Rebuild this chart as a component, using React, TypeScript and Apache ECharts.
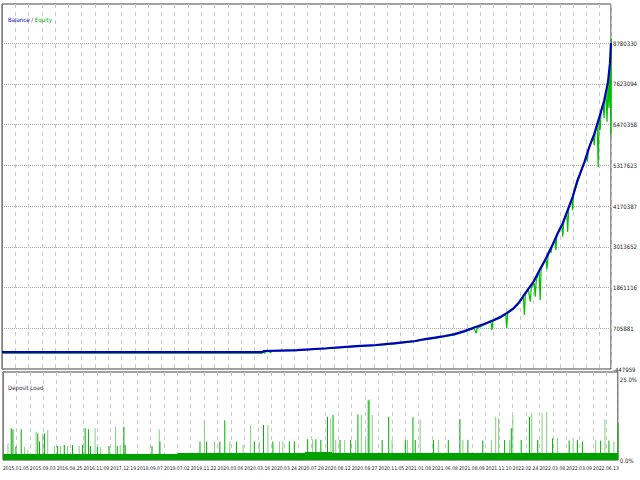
import React, { useEffect, useRef } from "react";
import * as echarts from "echarts";

// ---- tick labels ----
const dateLabels = [
  "2015.01.05", "2015.09.03", "2016.04.25", "2016.11.09", "2017.12.19", "2018.09.07",
  "2019.07.02", "2019.11.22", "2020.03.06", "2020.03.16", "2020.03.24", "2020.07.28",
  "2020.08.12", "2020.08.27", "2020.11.05", "2021.01.08", "2021.06.08", "2021.08.09",
  "2021.11.10", "2022.02.24", "2022.03.08", "2022.03.09", "2022.06.13",
];
const yLabels = [
  "-447959", "705881", "1861116", "3013652", "4170387", "5317623", "6470358", "7623094", "8780330",
];
const loadLabels = ["0.0%", "25.0%"];

// ---- series (x = trade position along the report) ----
const balance: number[][] = [
  [0, 30000], [265, 30000], [266, 62000], [300, 88000], [330, 140000], [360, 200000],
  [380, 232000], [400, 285000], [420, 345000], [430, 400000], [440, 440000], [450, 486000],
  [460, 540000], [470, 625000], [480, 725000], [490, 825000], [500, 940000], [507, 1030000],
  [513, 1135000], [520, 1270000], [525, 1420000], [530, 1620000], [535, 1820000], [540, 2010000],
  [547, 2380000], [553, 2690000], [560, 3090000], [565, 3400000], [570, 3680000], [575, 4050000],
  [580, 4420000], [585, 4900000], [587, 5040000], [592, 5410000], [597, 5840000], [602, 6200000],
  [607, 6660000], [612, 7140000], [616, 7680000], [618, 8210000], [619, 8780330],
];

const equity: number[][] = [
  [0, 0], [264, 0], [266, 40000], [267, -10000], [268, 45000], [272, 50000], [273, 5000],
  [274, 55000], [300, 75000], [330, 125000], [360, 185000], [380, 215000], [400, 265000],
  [420, 330000], [430, 380000], [440, 420000], [450, 470000], [460, 520000], [470, 600000],
  [480, 700000], [482, 560000], [483, 710000], [490, 800000], [497, 890000], [498, 656000],
  [499, 910000], [507, 1000000], [512, 1100000], [513, 713000], [514, 1120000], [520, 1250000],
  [525, 1400000], [528, 1500000], [530, 1600000], [531, 1080000], [532, 1660000], [535, 1800000],
  [537, 1460000], [538, 1860000], [541, 1980000], [542, 1600000], [543, 2040000], [546, 2330000],
  [547, 1500000], [548, 2400000], [553, 2650000], [554, 2380000], [555, 2720000], [557, 2950000],
  [558, 2840000], [559, 2990000], [562, 3220000], [563, 2920000], [564, 3320000], [569, 3640000],
  [570, 3300000], [571, 3700000], [574, 3980000], [575, 3440000], [576, 4090000], [579, 4360000],
  [580, 4050000], [581, 4480000], [587, 5000000], [592, 5380000], [594, 5560000], [595, 5420000],
  [596, 5750000], [601, 6150000], [602, 5890000], [603, 6280000], [605, 6500000], [606, 5270000],
  [607, 6620000], [608, 6320000], [609, 6850000], [611, 7050000], [612, 6660000], [613, 7250000],
  [614, 7380000], [615, 6550000], [616, 7640000], [617, 6940000], [618, 8150000], [619, 6170000],
  [619.4, 8900000],
];

const loadBase: number[][] = [
  [0, 1.7], [175, 1.7], [176, 2.0], [303, 2.0], [304, 2.3], [330, 2.3], [331, 2.0], [619, 2.2],
];

const loadDark: number[][] = [
  [8.3, 9.8], [10, 9.5], [13, 4.1], [18.3, 9.5], [35, 8.2], [36.7, 5.7], [41.7, 8.2], [55, 4.3],
  [61.7, 4.6], [70, 4.6], [80, 4.6], [82.7, 9.8], [86, 9.5], [88, 4.3], [95, 4.1], [106.7, 4.3],
  [115, 4.3], [121.7, 10.3], [123, 4.6], [150, 4.3], [158, 5.7], [198.3, 5.7], [205, 5.7],
  [218.3, 5.7], [223.3, 12.3], [235, 5.7], [253, 5.7], [262.3, 10.8], [271.7, 5.7], [288.3, 5.7],
  [293.3, 5.7], [306.7, 6.4], [315, 6.4], [320, 6.2], [326.7, 13.4], [332.3, 13.9], [339.3, 6.2],
  [350, 6.2], [357.3, 14.1], [367.7, 18.5], [381.7, 6.2], [388.3, 13.4], [405, 6.2], [412.7, 13.2],
  [415, 6.2], [433.3, 6.2], [448.3, 6.2], [460, 12.6], [468, 6.2], [483, 6.0], [505, 6.2],
  [511.7, 9.8], [521.7, 6.2], [530, 13.4], [538.3, 6.2], [553.3, 6.7], [570, 6.0], [578.3, 6.2],
  [583.3, 5.7], [601.7, 6.0], [610, 6.0], [619.3, 11.5],
];

const loadLight: number[][] = [
  [5, 5.1], [21.7, 4.1], [25, 3.1], [33.3, 8.7], [40, 8.2], [45, 9.3], [51.7, 4.3], [58, 4.3],
  [65, 4.3], [76.7, 4.3], [92.7, 9.8], [98.3, 4.1], [113.3, 10.3], [118, 4.6], [157.3, 9.5],
  [202.7, 12.3], [213, 5.7], [228.3, 5.7], [241.7, 4.6], [249.3, 10.8], [258, 5.7], [266.7, 10.8],
  [278.3, 5.7], [281.7, 5.7], [311.7, 6.4], [330, 12.9], [335, 6.2], [344, 6.2], [355, 6.2],
  [360.7, 13.9], [365, 6.2], [369, 18.7], [371.7, 13.9], [391.7, 6.2], [407.3, 6.2], [420, 12.6],
  [438.3, 6.2], [463, 6.2], [491.7, 6.2], [496, 13.4], [499, 12.9], [510, 6.2], [513.3, 13.9],
  [532.3, 14.6], [542.7, 14.6], [547.3, 14.9], [558.3, 6.7], [574, 6.7], [596.7, 6.2], [606, 12.6],
  [615, 5.7],
];

const FONT = '"DejaVu Sans Condensed","Liberation Sans Narrow",sans-serif';
const X_MIN = 0;
const X_MAX = 619;
const X_STEP = 13.5;
const Y_MIN = -447959;
const Y_MAX = 9884330;
const Y_STEP = (8780330 - Y_MIN) / 8;

export default function App() {
  const ref = useRef<HTMLDivElement>(null);

  useEffect(() => {
    document.body.style.margin = "0";
    const chart = echarts.init(ref.current!, null, { renderer: "svg" });

    const vSplit = { show: true, lineStyle: { color: "#c8c8c8", type: [4, 4] as any, width: 1 } };

    const xBase = (gridIndex: number, showLabels: boolean) => ({
      type: "value" as const,
      gridIndex,
      min: X_MIN,
      max: X_MAX,
      interval: X_STEP,
      axisLine: { show: false },
      axisTick: { show: false },
      splitLine: vSplit,
      axisLabel: {
        show: showLabels,
        align: "left" as const,
        margin: 5,
        fontSize: 5,
        fontFamily: FONT,
        color: "#222",
        showMinLabel: true,
        showMaxLabel: false,
        hideOverlap: false,
        formatter: (v: number) => {
          const k = v / X_STEP;
          const r = Math.round(k);
          if (Math.abs(k - r) > 1e-3 || r % 2 !== 0) return "";
          return dateLabels[r / 2] ?? "";
        },
      },
    });

    chart.setOption({
      animation: false,
      backgroundColor: "#ffffff",
      title: [
        {
          text: "{b|Balance}{s| / }{e|Equity}",
          left: 3,
          top: 11,
          textStyle: {
            rich: {
              b: { color: "#0000c8", fontSize: 6, fontWeight: "normal", fontFamily: FONT },
              s: { color: "#333", fontSize: 6, fontWeight: "normal", fontFamily: FONT },
              e: { color: "#00b000", fontSize: 6, fontWeight: "normal", fontFamily: FONT },
            },
          },
        },
        {
          text: "Deposit Load",
          left: 3,
          top: 379,
          textStyle: { color: "#333", fontSize: 6, fontWeight: "normal", fontFamily: FONT },
        },
      ],
      grid: [
        { left: 2, right: 19, top: 4, bottom: 111, show: true, borderColor: "#404040", borderWidth: 1 },
        { left: 2, right: 19, top: 372, bottom: 20, show: true, borderColor: "#404040", borderWidth: 1 },
      ],
      xAxis: [xBase(0, false), xBase(1, true)],
      yAxis: [
        {
          type: "value",
          gridIndex: 0,
          position: "right",
          min: Y_MIN,
          max: Y_MAX,
          interval: Y_STEP,
          axisLine: { show: true, lineStyle: { color: "#808080" } },
          axisTick: { show: false },
          splitLine: { show: true, lineStyle: { color: "#a8a8a8", type: [1, 1] as any } },
          axisLabel: {
            margin: 2,
            fontSize: 6,
            fontFamily: FONT,
            color: "#222",
            showMaxLabel: false,
            formatter: (v: number) => {
              const k = (v - Y_MIN) / Y_STEP;
              const r = Math.round(k);
              if (Math.abs(k - r) > 1e-3) return "";
              return yLabels[r] ?? "";
            },
          },
        },
        {
          type: "value",
          gridIndex: 1,
          position: "right",
          min: 0,
          max: 27.2,
          interval: 25,
          axisLine: { show: true, lineStyle: { color: "#808080" } },
          axisTick: { show: false },
          splitLine: { show: false },
          axisLabel: {
            margin: 2,
            fontSize: 6,
            fontFamily: FONT,
            color: "#222",
            showMaxLabel: false,
            formatter: (v: number) => {
              const k = v / 25;
              const r = Math.round(k);
              if (Math.abs(k - r) > 1e-3) return "";
              return loadLabels[r] ?? "";
            },
          },
        },
      ],
      series: [
        {
          name: "Equity",
          type: "line",
          xAxisIndex: 0,
          yAxisIndex: 0,
          data: equity,
          showSymbol: false,
          lineStyle: { color: "#00c000", width: 1.2 },
          z: 2,
        },
        {
          name: "Balance",
          type: "line",
          xAxisIndex: 0,
          yAxisIndex: 0,
          data: balance,
          showSymbol: false,
          lineStyle: { color: "#0000c0", width: 2.2 },
          z: 3,
        },
        {
          name: "LoadLight",
          type: "bar",
          xAxisIndex: 1,
          yAxisIndex: 1,
          data: loadLight,
          barWidth: 1,
          barGap: "-100%",
          itemStyle: { color: "#80d080" },
          z: 2,
        },
        {
          name: "LoadDark",
          type: "bar",
          xAxisIndex: 1,
          yAxisIndex: 1,
          data: loadDark,
          barWidth: 1,
          barGap: "-100%",
          itemStyle: { color: "#00a800" },
          z: 3,
        },
        {
          name: "LoadBase",
          type: "line",
          xAxisIndex: 1,
          yAxisIndex: 1,
          data: loadBase,
          showSymbol: false,
          step: "end",
          lineStyle: { color: "#00a000", width: 1 },
          areaStyle: { color: "#00a000", opacity: 1 },
          z: 4,
        },
      ],
    });

    return () => chart.dispose();
  }, []);

  return (
    <div
      ref={ref}
      style={{ position: "absolute", left: 0, top: 0, width: 640, height: 480 }}
    />
  );
}
